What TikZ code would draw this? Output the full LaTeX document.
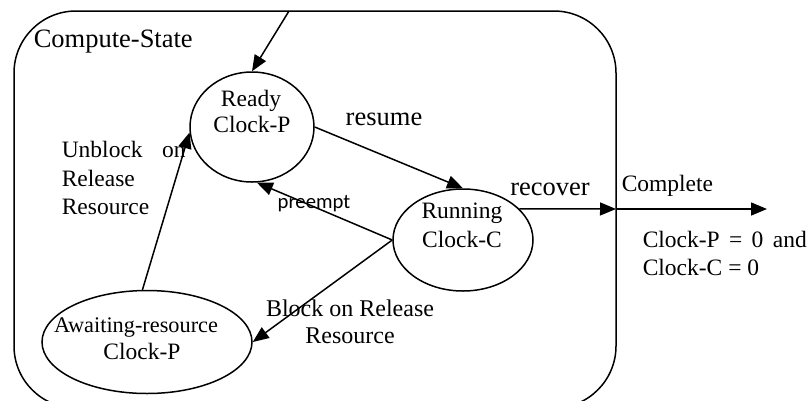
\documentclass[tikz,border=0pt]{standalone}
\usepackage{fontspec}
\setmainfont{Liberation Serif}
\newfontfamily\labelsans{Carlito}
\usetikzlibrary{arrows.meta,shapes.geometric}

\begin{document}
\begin{tikzpicture}[x=1pt,y=-1pt,line width=1.5pt,
  state/.style={draw,ellipse,inner sep=0pt},
  txt/.style={anchor=base,inner sep=0pt,font=\fontsize{23.5}{27}\selectfont},
  big/.style={anchor=base,inner sep=0pt,font=\fontsize{26.5}{30}\selectfont},
  flow/.style={-{Triangle[length=16pt,width=13pt]}}]
\useasboundingbox (0,0) rectangle (811,400);

% enclosing super-state
\draw[rounded corners=62pt] (14,11) rectangle (616,408);
\node[big,anchor=base west] (title) at (33,47) {Compute-State};

% states
\node[state,minimum width=124pt,minimum height=110pt] (ready) at (252,127) {};
\node[state,minimum width=140pt,minimum height=102pt] (running) at (463,240) {};
\node[state,minimum width=210pt,minimum height=103pt] (await) at (147,342) {};

\node[txt] (readyA) at (251,106) {Ready};
\node[txt] (readyB) at (252,132) {Clock-P};
\node[txt] (runA) at (462,218) {Running};
\node[txt] (runB) at (462,247) {Clock-C};
\node[txt,font=\fontsize{22.3}{26}\selectfont] (awA) at (136,332) {Awaiting-resource};
\node[txt] (awB) at (142,359) {Clock-P};

% free ends
\coordinate (entry) at (289,11);
\coordinate (exit) at (616,209);
\coordinate (done) at (767,209);

% transitions
\draw[flow] (entry) -- (ready.north);
\draw[flow] (ready.east) -- (running.north);
\draw[flow] (running.west) -- (ready.-85);
\draw[flow] (running.west) -- (await.east);
\draw[flow] (await.95) -- (ready.185);
\draw[flow] (running.29) -- (exit);
\draw[flow] (exit) -- (done);

% transition labels
\node[big] (lresume) at (384,125) {resume};
\node[anchor=base,inner sep=0pt,font=\labelsans\fontsize{20.7}{24}\selectfont] (lpre) at (314,208) {preempt};
\node[txt,anchor=base west] (lub1) at (61,157) {\makebox[124pt][s]{Unblock on}};
\node[txt,anchor=base west] (lub2) at (61,186) {Release};
\node[txt,anchor=base west] (lub3) at (61,214) {Resource};
\node[txt,font=\fontsize{24}{28}\selectfont] (lbl1) at (350,316) {Block on Release};
\node[txt,font=\fontsize{24}{28}\selectfont] (lbl2) at (350,343) {Resource};
\node[big] (lrec) at (550,195) {recover};
\node[txt,anchor=base west] (lcomp) at (621,191) {Complete};
\node[txt,anchor=base west] (lc1) at (642,247) {\makebox[164pt][s]{Clock-P = 0 and}};
\node[txt,anchor=base west] (lc2) at (642,275) {Clock-C = 0};
\end{tikzpicture}
\end{document}
